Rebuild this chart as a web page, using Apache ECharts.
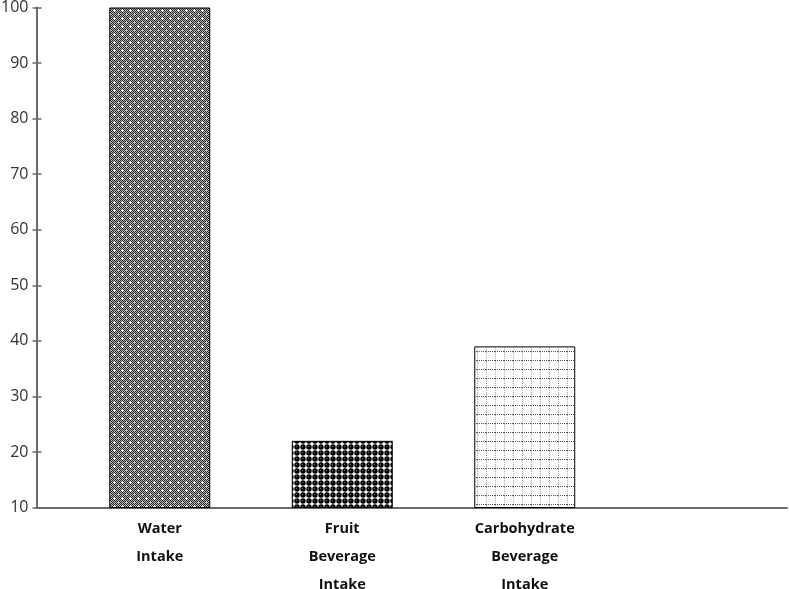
<!DOCTYPE html>
<html>
<head>
<meta charset="utf-8">
<script src="https://cdn.jsdelivr.net/npm/echarts@6/dist/echarts.min.js"></script>
<style>html,body{margin:0;padding:0;background:#fff;}#c{width:789px;height:589px;}</style>
</head>
<body>
<div id="c"></div>
<script>
const categories = ['Water\nIntake', 'Fruit\nBeverage\nIntake', 'Carbohydrate\nBeverage\nIntake'];
const values = [100, 22, 39];
const yTicks = [10, 20, 30, 40, 50, 60, 70, 80, 90, 100];

function tile(w, h, draw) {
  const c = document.createElement('canvas');
  c.width = w; c.height = h;
  const ctx = c.getContext('2d');
  draw(ctx);
  return c;
}
const waterTile = tile(8, 8, ctx => {
  for (let y = 0; y < 8; y++) for (let x = 0; x < 8; x++) {
    ctx.fillStyle = ((x + y) % 2 === 0) ? '#222222' : '#bcbcbc';
    ctx.fillRect(x, y, 1, 1);
  }
  ctx.fillStyle = '#ffffff';
  ctx.fillRect(2, 1, 1, 3); ctx.fillRect(1, 2, 3, 1);
  ctx.fillStyle = '#e0e0e0';
  ctx.fillRect(6, 6, 1, 1);
});
const fruitTile = tile(6, 6, ctx => {
  ctx.fillStyle = '#ffffff'; ctx.fillRect(0, 0, 6, 6);
  ctx.fillStyle = '#000000';
  ctx.beginPath(); ctx.arc(3, 3, 2.7, 0, Math.PI * 2); ctx.fill();
  ctx.fillStyle = '#777777'; ctx.fillRect(2, 2, 1, 1);
});
const carbTile = tile(9, 9, ctx => {
  ctx.fillStyle = '#ffffff'; ctx.fillRect(0, 0, 9, 9);
  ctx.fillStyle = '#555555';
  for (let x = 0; x < 9; x += 2) ctx.fillRect(x, 0, 1, 1);
  ctx.fillStyle = '#aaaaaa';
  for (let y = 1; y < 9; y += 2) ctx.fillRect(0, y, 1, 1);
});
const patterns = [waterTile, fruitTile, carbTile].map(img => ({ image: img, repeat: 'repeat' }));

const chart = echarts.init(document.getElementById('c'));
const yMin = yTicks[0], yMax = yTicks[yTicks.length - 1], yStep = yTicks[1] - yTicks[0];
chart.setOption({
  animation: false,
  grid: [
    { left: 36.5, right: 2, top: 7.5, height: 500, outerBoundsMode: 'none', containLabel: false },
    { left: 68.5, width: 547.5, top: 7.5, height: 500, outerBoundsMode: 'none', containLabel: false }
  ],
  xAxis: [
    { type: 'value', gridIndex: 0, min: 0, max: 1, axisLine: { show: true, onZero: false, lineStyle: { color: '#6a6a6a', width: 2 } },
      axisTick: { show: false }, axisLabel: { show: false }, splitLine: { show: false } },
    { type: 'category', gridIndex: 1, data: categories, boundaryGap: true,
      axisLine: { show: false }, axisTick: { show: false },
      axisLabel: { margin: 7, color: '#111', fontFamily: 'Open Sans', fontWeight: 'bold', fontSize: 14.5, lineHeight: 28, interval: 0 } }
  ],
  yAxis: [
    { type: 'value', gridIndex: 0, min: yMin, max: yMax, interval: yStep,
      axisLine: { show: true, lineStyle: { color: '#6a6a6a', width: 2 } },
      axisTick: { show: true, length: 4, lineStyle: { color: '#6a6a6a', width: 1.5 } },
      axisLabel: { margin: 8, color: '#333', fontFamily: 'Open Sans', fontSize: 16 },
      splitLine: { show: false } },
    { type: 'value', gridIndex: 0, min: yMin, max: yMax, interval: yStep, position: 'left',
      axisLine: { show: false }, axisLabel: { show: false }, splitLine: { show: false },
      axisTick: { show: true, inside: true, length: 5, lineStyle: { color: '#6a6a6a', width: 1.5 } } },
    { type: 'value', gridIndex: 1, min: yMin, max: yMax, show: false }
  ],
  series: [{
    type: 'bar', xAxisIndex: 1, yAxisIndex: 2, barWidth: 101,
    data: values.map((v, i) => ({ value: v, itemStyle: { color: patterns[i], borderColor: '#000', borderWidth: 1 } }))
  }]
});
</script>
</body>
</html>
